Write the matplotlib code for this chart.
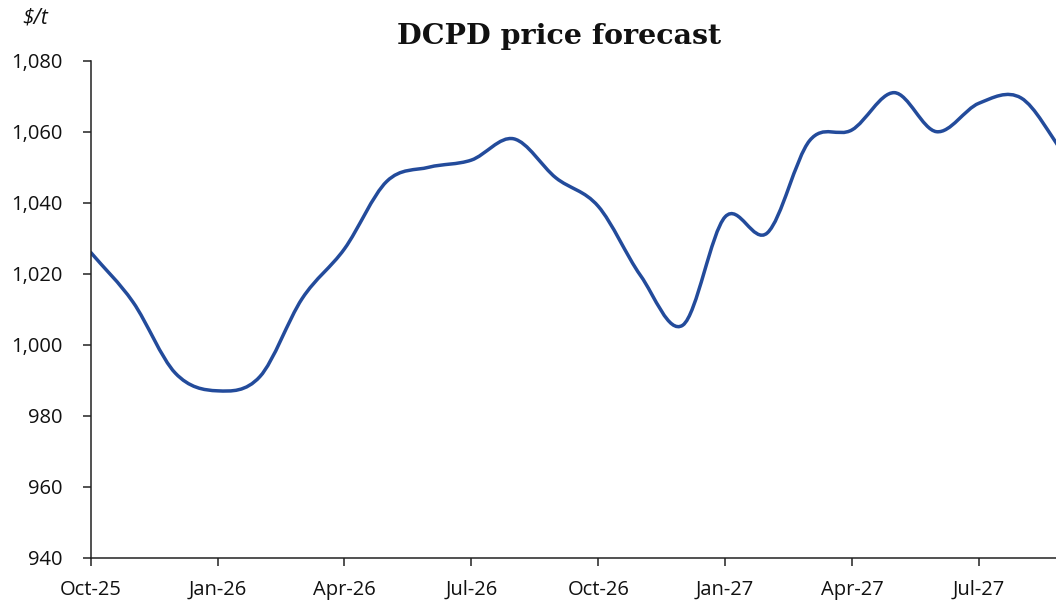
import numpy as np
import matplotlib
matplotlib.use("Agg")
import matplotlib.pyplot as plt
from matplotlib.path import Path
from matplotlib.patches import PathPatch
from matplotlib.ticker import FuncFormatter

### données ($/t, mensuel)
months = ["Oct-25", "Nov-25", "Dec-25", "Jan-26", "Feb-26", "Mar-26", "Apr-26", "May-26",
          "Jun-26", "Jul-26", "Aug-26", "Sep-26", "Oct-26", "Nov-26", "Dec-26", "Jan-27",
          "Feb-27", "Mar-27", "Apr-27", "May-27", "Jun-27", "Jul-27", "Aug-27", "Sep-27"]
prices = [1026, 1012, 992, 987, 991, 1013, 1027, 1046,
          1050, 1052, 1058, 1047, 1039, 1019.5, 1005.5, 1036,
          1031.5, 1057.5, 1060.5, 1071, 1060, 1068, 1069.5, 1054]
y_ticks = [940, 960, 980, 1000, 1020, 1040, 1060, 1080]

plt.rcParams['font.family'] = ['Open Sans', 'DejaVu Sans']

fig = plt.figure(figsize=(10.56, 6.04), dpi=100)
ax = fig.add_axes([0.0859, 0.0767, 0.9211, 0.8228])

### courbe lissée (style "smoothed line" d'Excel : Bézier type Catmull-Rom)
x = np.arange(len(prices), dtype=float)
y = np.array(prices, dtype=float)
n = len(y)
m = np.empty(n)
m[1:-1] = (y[2:] - y[:-2]) / 2
m[0] = y[1] - y[0]
m[-1] = y[-1] - y[-2]
verts = [(x[0], y[0])]
codes = [Path.MOVETO]
for i in range(n - 1):
    verts += [(x[i] + 1/3, y[i] + m[i]/3), (x[i+1] - 1/3, y[i+1] - m[i+1]/3), (x[i+1], y[i+1])]
    codes += [Path.CURVE4] * 3
ax.add_patch(PathPatch(Path(verts, codes), fill=False, edgecolor="#234b9b", lw=2.5,
                       capstyle="round", joinstyle="round"))

ax.set_xlim(0, n - 1)
ax.set_ylim(940, 1080)
ax.set_yticks(y_ticks)
ax.yaxis.set_major_formatter(FuncFormatter(lambda v, p: f"{int(v):,}"))
ax.set_xticks(x[::3])
ax.set_xticklabels(months[::3])

for s in ["top", "right"]:
    ax.spines[s].set_visible(False)
for s in ["left", "bottom"]:
    ax.spines[s].set_color("#222222")
    ax.spines[s].set_linewidth(1.1)
ax.tick_params(axis="y", direction="out", length=6, width=1.1, color="#222222",
               labelsize=14.5, pad=14, labelcolor="#111111")
ax.tick_params(axis="x", direction="out", length=6, width=1.1, color="#222222",
               labelsize=14.5, pad=10, labelcolor="#111111")

fig.text(559/1056, 1 - 37/604, "DCPD price forecast", ha="center", va="center",
         fontsize=20.5, fontweight="bold", family="DejaVu Serif", color="#111111")
fig.text(35/1056, 1 - 18/604, "$/t", ha="center", va="center",
         fontsize=15, style="italic", color="#111111")

fig.savefig("out.png", dpi=100)
